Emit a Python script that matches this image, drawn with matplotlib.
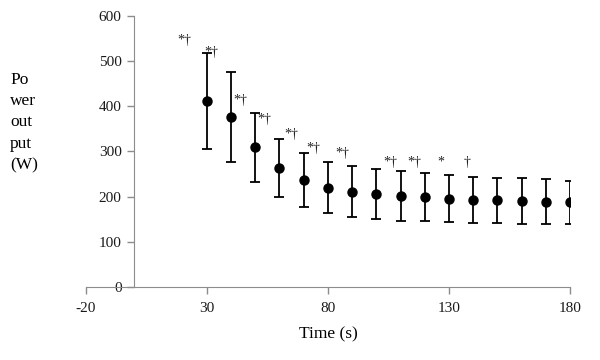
import matplotlib
matplotlib.use('Agg')
import matplotlib.pyplot as plt
import numpy as np

time_s = [30, 40, 50, 60, 70, 80, 90, 100, 110, 120, 130, 140, 150, 160, 170, 180]
power_w = [411, 376, 309, 263, 236, 220, 211, 206, 201, 199, 195, 193, 192, 190, 189, 187]
power_sd = [106, 100, 77, 64, 60, 57, 57, 55, 55, 54, 52, 51, 50, 50, 49, 47]

# significance markers: (text, x, y) in data units
sig_labels = [('*†', 18, 545), ('*†', 29, 518), ('*†', 41, 412), ('*†', 51, 370),
              ('*†', 62, 338), ('*†', 71, 307), ('*†', 83, 295), ('*†', 103, 276),
              ('*†', 113, 276), ('*', 125, 276), ('†', 136, 276)]

plt.rcParams['font.family'] = ['Liberation Serif', 'DejaVu Serif']
plt.rcParams['axes.unicode_minus'] = False

fig = plt.figure(figsize=(6, 3.6), dpi=100)
ax = fig.add_axes([0.143, 0.203, 0.807, 0.753])

ax.errorbar(time_s, power_w, yerr=power_sd, fmt='o', color='black',
            markersize=6.5, elinewidth=1.3, capsize=3.5, capthick=1.3)

for txt, x, y in sig_labels:
    ax.text(x, y, txt, fontsize=10, color='#222222', ha='left', va='center')

ax.set_xlim(-20, 180)
ax.set_ylim(0, 600)
ax.set_xticks([-20, 30, 80, 130, 180])
ax.set_yticks(np.arange(0, 601, 100))

ax.spines['left'].set_position(('data', 0))
ax.spines['top'].set_visible(False)
ax.spines['right'].set_visible(False)
for s in ['left', 'bottom']:
    ax.spines[s].set_color('#8c8c8c')
ax.tick_params(axis='both', colors='#8c8c8c', labelcolor='#1a1a1a',
               labelsize=11, length=5, width=1)
ax.tick_params(axis='x', pad=6)
ax.tick_params(axis='y', pad=4)

ax.set_xlabel('Time (s)', fontsize=12.5, labelpad=8)
fig.text(0.017, 0.66, 'Po\nwer\nout\nput\n(W)', fontsize=12.5, ha='left', va='center',
         linespacing=1.45)

fig.savefig('out.png', dpi=100)
